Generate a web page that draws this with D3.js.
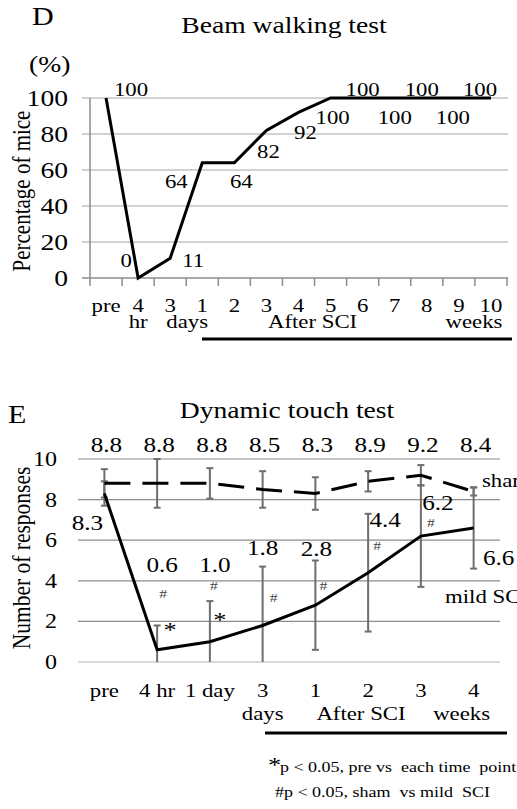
<!DOCTYPE html>
<html>
<head>
<meta charset="utf-8">
<script src="https://cdn.jsdelivr.net/npm/d3@7"></script>
<style>
	body { margin: 0; background: #fff; }
	svg { display: block; }
	text { font-family: "Liberation Serif", "Times New Roman", serif; fill: #000; white-space: pre; }
</style>
</head>
<body>
<div id="chart"></div>
<script>
// Panel D - beam walking test
let beamCats = ["pre", "4", "3", "1", "2", "3", "4", "5", "6", "7", "8", "9", "10"];
let beamValues = [100, 0, 11, 64, 64, 82, 92, 100, 100, 100, 100, 100, 100];
let beamTicks = [0, 20, 40, 60, 80, 100];

// Panel E - dynamic touch test
let touchCats = ["pre", "4 hr", "1 day", "3", "1", "2", "3", "4"];
let shamValues = [8.8, 8.8, 8.8, 8.5, 8.3, 8.9, 9.2, 8.4];
let shamErr = [0.7, 1.2, 0.75, 0.9, 0.8, 0.5, 0.5, 0.2];
let mildValues = [8.3, 0.6, 1.0, 1.8, 2.8, 4.4, 6.2, 6.6];
let mildErr = [0.6, 1.2, 2.0, 2.9, 2.2, 2.9, 2.5, 2.0];
let touchTicks = [0, 2, 4, 6, 8, 10];
let starIdx = [1, 2];             // p < 0.05 pre vs time point
let hashIdx = [1, 2, 3, 4, 5, 6]; // p < 0.05 sham vs mild

// label placement (offsets from the data point)
let beamLabelOff = [[25, -2], [-12, -11], [23, 9], [-26, 25], [7, 25], [2, 28], [7, 27], [2, 26], [0, -2], [0, 26], [-5, -2], [-6, 26], [-11, -2]];
let mildLabelOff = [[-17, 36], [5, -78], [5, -70], [0, -70], [1, -49], [17, -46], [17, -26], [25, 37]];
let hashOff = [[6, -52], [4, -52], [11, -23], [8, -15], [9, -23], [10, -9]];
let starOff = [[13, -13], [10, -15]];

// the source image is stretched horizontally, so text is too
let S = 1.2;

let svg = d3.select("#chart").append("svg")
	.attr("width", 517)
	.attr("height", 809);

function txt(x, y, str, size, anchor, color) {
	return svg.append("text")
		.attr("transform", "translate(" + x + "," + y + ") scale(" + S + ",1)")
		.attr("text-anchor", anchor || "start")
		.style("font-size", size + "px")
		.style("fill", color || "#000")
		.text(str);
}

function vtxt(x, y, str, size) {
	return svg.append("text")
		.attr("transform", "translate(" + x + "," + y + ") rotate(-90) scale(1," + S + ")")
		.attr("text-anchor", "middle")
		.style("font-size", size + "px")
		.text(str);
}

// ---------------- PANEL D ----------------
let xD = d3.scaleBand()
	.domain(d3.range(beamCats.length))
	.range([90, 507]);

let yD = d3.scaleLinear()
	.domain([0, 100])
	.range([278, 98]);

let gD = svg.append("g");

// gridlines
gD.selectAll(".gridD")
	.data(beamTicks.filter(d => d > 0))
	.enter()
	.append("line")
	.attr("x1", 82)
	.attr("x2", 508)
	.attr("y1", d => yD(d))
	.attr("y2", d => yD(d))
	.style("stroke", "#a6a6a6")
	.style("stroke-width", 1.2);

// axes lines
gD.append("line")
	.attr("x1", 82).attr("x2", 508)
	.attr("y1", yD(0)).attr("y2", yD(0))
	.style("stroke", "#8c8c8c").style("stroke-width", 1.5);
gD.append("line")
	.attr("x1", xD(0)).attr("x2", xD(0))
	.attr("y1", yD(100)).attr("y2", yD(0) + 8)
	.style("stroke", "#8c8c8c").style("stroke-width", 1.5);

// boundary ticks on x axis
gD.selectAll(".tickD")
	.data(d3.range(1, beamCats.length + 1))
	.enter()
	.append("line")
	.attr("x1", d => xD(0) + d * xD.step())
	.attr("x2", d => xD(0) + d * xD.step())
	.attr("y1", yD(0))
	.attr("y2", yD(0) + 8)
	.style("stroke", "#8c8c8c").style("stroke-width", 1.5);

beamTicks.forEach(t => {
	txt(68, yD(t) + 7.5, String(t), 23, "end");
});

let lineD = d3.line()
	.x((d, i) => xD(i) + xD.bandwidth() / 2)
	.y(d => yD(d));

gD.append("path")
	.datum(beamValues)
	.attr("d", lineD)
	.style("fill", "none")
	.style("stroke", "#000")
	.style("stroke-width", 3)
	.style("stroke-linejoin", "miter");

beamValues.forEach((v, i) => {
	let cx = xD(i) + xD.bandwidth() / 2;
	txt(cx + beamLabelOff[i][0], yD(v) + beamLabelOff[i][1], String(v), 19, "middle");
	txt(cx, 312, beamCats[i], 19, "middle");
});

let cD = i => xD(i) + xD.bandwidth() / 2;
txt(cD(1), 328, "hr", 19, "middle");
txt((cD(2) + cD(3)) / 2 + 1, 328, "days", 19, "middle");
txt(cD(7) - 18, 328, "After SCI", 19, "middle");
txt(cD(12) - 17, 328, "weeks", 19, "middle");

gD.append("line")
	.attr("x1", 202).attr("x2", 512)
	.attr("y1", 339).attr("y2", 339)
	.style("stroke", "#000").style("stroke-width", 3);

txt(284, 33, "Beam walking test", 23, "middle");
txt(32, 25, "D", 25, "start");
txt(29, 72, "(%)", 23, "start");
vtxt(30, 191, "Percentage of mice", 21);

// ---------------- PANEL E ----------------
let xE = d3.scaleBand()
	.domain(d3.range(touchCats.length))
	.range([78, 500]);

let yE = d3.scaleLinear()
	.domain([0, 10])
	.range([662, 459]);

let cE = i => xE(i) + xE.bandwidth() / 2;

let gE = svg.append("g");

gE.selectAll(".gridE")
	.data(touchTicks)
	.enter()
	.append("line")
	.attr("x1", 78)
	.attr("x2", 500)
	.attr("y1", d => yE(d))
	.attr("y2", d => yE(d))
	.style("stroke", d => d === 0 ? "#d9d9d9" : "#8c8c8c")
	.style("stroke-width", d => d === 0 ? 2 : 1.2);

touchTicks.forEach(t => {
	txt(57, yE(t) + 7, String(t), 20, "end");
});

// error bars
function errorBars(values, errs) {
	values.forEach((v, i) => {
		let top = v + errs[i];
		let bot = Math.max(0, v - errs[i]);
		let x = cE(i);
		gE.append("line")
			.attr("x1", x).attr("x2", x)
			.attr("y1", yE(top)).attr("y2", yE(bot))
			.style("stroke", "#6e6e6e").style("stroke-width", 2);
		gE.append("line")
			.attr("x1", x - 3.5).attr("x2", x + 3.5)
			.attr("y1", yE(top)).attr("y2", yE(top))
			.style("stroke", "#6e6e6e").style("stroke-width", 2);
		if (bot > 0) {
			gE.append("line")
				.attr("x1", x - 3.5).attr("x2", x + 3.5)
				.attr("y1", yE(bot)).attr("y2", yE(bot))
				.style("stroke", "#6e6e6e").style("stroke-width", 2);
		}
	});
}
errorBars(shamValues, shamErr);
errorBars(mildValues, mildErr);

let lineE = d3.line()
	.x((d, i) => cE(i))
	.y(d => yE(d));

gE.append("path")
	.datum(shamValues)
	.attr("d", lineE)
	.style("fill", "none")
	.style("stroke", "#000")
	.style("stroke-width", 3)
	.style("stroke-dasharray", "26,12");

gE.append("path")
	.datum(mildValues)
	.attr("d", lineE)
	.style("fill", "none")
	.style("stroke", "#000")
	.style("stroke-width", 3);

// value labels
shamValues.forEach((v, i) => {
	txt(cE(i) + 2, yE(10) - 7, v.toFixed(1), 21, "middle");
});
mildValues.forEach((v, i) => {
	txt(cE(i) + mildLabelOff[i][0], yE(v) + mildLabelOff[i][1], v.toFixed(1), 21, "middle");
});
hashIdx.forEach((idx, k) => {
	txt(cE(idx) + hashOff[k][0], yE(mildValues[idx]) + hashOff[k][1], "#", 13, "middle", "#444");
});
starIdx.forEach((idx, k) => {
	txt(cE(idx) + starOff[k][0], yE(mildValues[idx]) + starOff[k][1], "*", 22, "middle");
});

txt(482, 487, "sham", 19, "start");
txt(445, 603, "mild SCI", 19, "start");

// x labels
touchCats.forEach((c, i) => {
	txt(cE(i), 697, c, 19, "middle");
});
txt(cE(3), 720, "days", 19, "middle");
txt(361, 720, "After SCI", 19, "middle");
txt(cE(7) - 12, 720, "weeks", 19, "middle");

gE.append("line")
	.attr("x1", 265).attr("x2", 507)
	.attr("y1", 733).attr("y2", 733)
	.style("stroke", "#000").style("stroke-width", 3);

txt(287, 418, "Dynamic touch test", 23, "middle");
txt(8, 423, "E", 25, "start");
vtxt(30, 558, "Number of responses", 21.5);

// footnotes
txt(268, 772, "*", 22, "start");
txt(280, 772, "p < 0.05, pre vs  each time  point", 15, "start");
txt(275, 797, "#p < 0.05, sham  vs mild  SCI", 15, "start");
</script>
</body>
</html>
